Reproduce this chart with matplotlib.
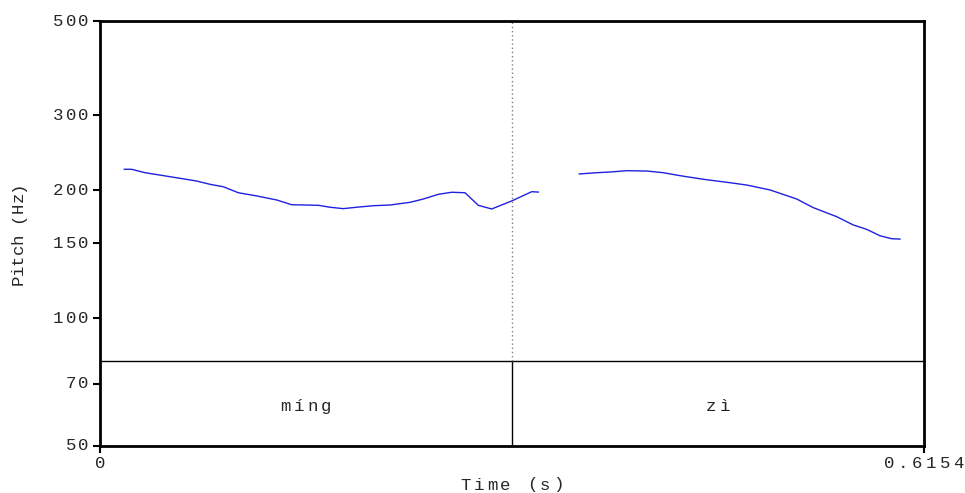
import matplotlib
matplotlib.use("Agg")
import matplotlib.pyplot as plt
import matplotlib.transforms as mtransforms

# Pitch contour (s, Hz), two voiced stretches
t1 = [0.01815, 0.02367, 0.03361, 0.05228, 0.07222, 0.08215, 0.09209, 0.10329,
      0.11703, 0.13197, 0.14317, 0.16304, 0.17177, 0.18171, 0.19171, 0.20411,
      0.21658, 0.23152, 0.24146, 0.25266, 0.26266, 0.27260, 0.28253, 0.29254,
      0.30747, 0.32241, 0.32734]
f1 = [223.9, 223.9, 219.8, 215.1, 210.1, 206.4, 203.7, 197.2,
      193.8, 189.6, 184.8, 184.2, 182.3, 180.9, 182.3, 183.8,
      184.5, 187.2, 190.6, 195.5, 197.7, 197.2, 184.2, 180.6,
      188.6, 198.3, 197.9]
t2 = [0.35796, 0.37095, 0.38089, 0.39336, 0.40830, 0.42069, 0.43317, 0.45057,
      0.47051, 0.48297, 0.50038, 0.52032, 0.53271, 0.55019, 0.56259, 0.57260,
      0.58253, 0.59127, 0.59747]
f2 = [218.3, 219.8, 220.6, 222.2, 221.8, 219.8, 216.3, 212.1,
      208.2, 205.6, 200.2, 190.6, 181.9, 173.2, 165.6, 161.7,
      156.2, 153.7, 153.4]

# Syllable tier
boundaries = [0.0, 0.3077, 0.6154]
syllables = ["míng", "zì"]

t_max = 0.6154
y_min, y_max = 50, 500
y_ticks = [50, 70, 100, 150, 200, 300, 500]
x_ticks = [0, t_max]
x_tick_labels = ["0", "0.6154"]

mono = ["Liberation Mono", "DejaVu Sans Mono"]
fs = 12.5
txt_color = "#262626"

fig = plt.figure(figsize=(9.65, 4.93), dpi=100)
ax = fig.add_axes([100/965, 47/493, 824/965, 425/493])


def spaced_text(x, y, s, transform, advance, ha="center", dx=0, dy=0,
                vertical=False, size=fs):
    """Draw a string one glyph at a time with a fixed advance (pixels)."""
    n = len(s)
    if ha == "center":
        start = -(n - 1) / 2 * advance
    elif ha == "right":
        start = -(n - 1) * advance - advance / 2
    else:
        start = advance / 2
    for i, ch in enumerate(s):
        if ch == " ":
            continue
        off = start + i * advance
        if vertical:
            tr = mtransforms.offset_copy(transform, fig=fig, x=dx, y=dy + off,
                                         units="dots")
            rot = 90
        else:
            tr = mtransforms.offset_copy(transform, fig=fig, x=dx + off, y=dy,
                                         units="dots")
            rot = 0
        ax.text(x, y, ch, transform=tr, ha="center", va="center",
                rotation=rot, family=mono, fontsize=size, color=txt_color,
                clip_on=False)


ax.plot(t1, f1, color="#2020e0", lw=1.0)
ax.plot(t2, f2, color="#2020e0", lw=1.0)

ax.set_yscale("log")
ax.set_xlim(0, t_max)
ax.set_ylim(y_min, y_max)
ax.yaxis.set_minor_locator(matplotlib.ticker.NullLocator())
ax.set_yticks(y_ticks)
ax.set_xticks(x_ticks)
ax.tick_params(axis="both", direction="out", length=5, width=1.5,
               color="black", labelleft=False, labelbottom=False)

for s in ax.spines.values():
    s.set_linewidth(2.0)

# Tick labels with Praat-style wide glyph spacing
ytr = mtransforms.blended_transform_factory(ax.transAxes, ax.transData)
for v in y_ticks:
    spaced_text(0, v, str(v), ytr, 12.7, ha="right", dx=-10)
xtr = mtransforms.blended_transform_factory(ax.transData, ax.transAxes)
for v, lab in zip(x_ticks, x_tick_labels):
    spaced_text(v, 0, lab, xtr, 13.8, ha="center", dy=-17)

# Tier area occupies the lowest fifth of the frame
tier_frac = 0.2
ax.plot([0, 1], [tier_frac, tier_frac], transform=ax.transAxes,
        color="black", lw=1.0)
for b in boundaries[1:-1]:
    ax.plot([b, b], [0, tier_frac], transform=xtr, color="black", lw=1.0)
    ax.plot([b, b], [tier_frac, 1], transform=xtr, color="#808080",
            lw=1.0, ls=(0, (1, 2)))
for i, lab in enumerate(syllables):
    mid = (boundaries[i] + boundaries[i + 1]) / 2
    spaced_text(mid, 0.094, lab, xtr, 13.5, ha="center")

# Axis titles
spaced_text(0.5, 0, "Time (s)", ax.transAxes, 13.25, ha="center", dy=-39)
spaced_text(0, 0.5, "Pitch (Hz)", ax.transAxes, 10.4, ha="center",
            dx=-82, vertical=True)

fig.savefig("out.png", dpi=100)
